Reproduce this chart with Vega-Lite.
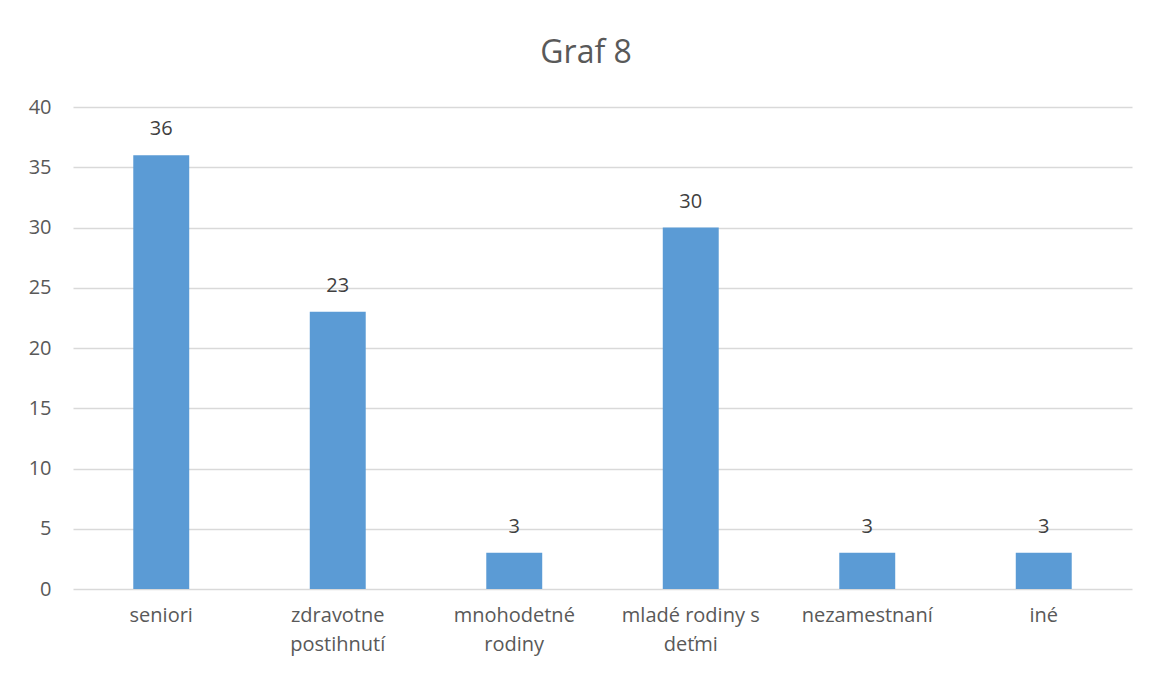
{
  "$schema": "https://vega.github.io/schema/vega-lite/v6.json",
  "width": 1059,
  "height": 482,
  "autosize": {"type": "none"},
  "padding": {"left": 73, "top": 107, "right": 19, "bottom": 86},
  "background": "white",
  "title": {
    "text": "Graf 8",
    "font": "Open Sans",
    "fontSize": 32,
    "fontWeight": "normal",
    "color": "#595959",
    "anchor": "middle",
    "frame": "bounds",
    "baseline": "alphabetic",
    "offset": 34,
    "dx": 6,
    "dy": 32
  },
  "data": {
    "values": [
      {"kategoria": "seniori", "pocet": 36},
      {"kategoria": "zdravotne postihnutí", "pocet": 23},
      {"kategoria": "mnohodetné rodiny", "pocet": 3},
      {"kategoria": "mladé rodiny s deťmi", "pocet": 30},
      {"kategoria": "nezamestnaní", "pocet": 3},
      {"kategoria": "iné", "pocet": 3}
    ]
  },
  "encoding": {
    "x": {
      "field": "kategoria",
      "type": "nominal",
      "sort": null,
      "scale": {"paddingInner": 0.683, "paddingOuter": 0.3415},
      "axis": {
        "title": null,
        "labelAngle": 0,
        "labelFont": "Open Sans",
        "labelFontSize": 20,
        "labelColor": "#595959",
        "labelPadding": 16,
        "labelLineHeight": 29,
        "labelBaseline": "top",
        "ticks": false,
        "domain": false,
        "labelLimit": 300,
        "labelExpr": "datum.value == 'zdravotne postihnutí' ? ['zdravotne', 'postihnutí'] : datum.value == 'mnohodetné rodiny' ? ['mnohodetné', 'rodiny'] : datum.value == 'mladé rodiny s deťmi' ? ['mladé rodiny s', 'deťmi'] : datum.value"
      }
    },
    "y": {
      "field": "pocet",
      "type": "quantitative",
      "scale": {"domain": [0, 40], "nice": false},
      "axis": {
        "title": null,
        "values": [0, 5, 10, 15, 20, 25, 30, 35, 40],
        "labelFont": "Open Sans",
        "labelFontSize": 20,
        "labelColor": "#595959",
        "labelPadding": 22,
        "ticks": false,
        "domain": false,
        "gridColor": "#D9D9D9",
        "gridWidth": 1.5
      }
    }
  },
  "layer": [
    {"mark": {"type": "bar", "color": "#5B9BD5"}},
    {
      "mark": {
        "type": "text",
        "font": "Open Sans",
        "fontSize": 20,
        "color": "#404040",
        "baseline": "alphabetic",
        "dy": -20
      },
      "encoding": {"text": {"field": "pocet", "type": "quantitative"}}
    }
  ],
  "config": {"view": {"stroke": null}}
}
